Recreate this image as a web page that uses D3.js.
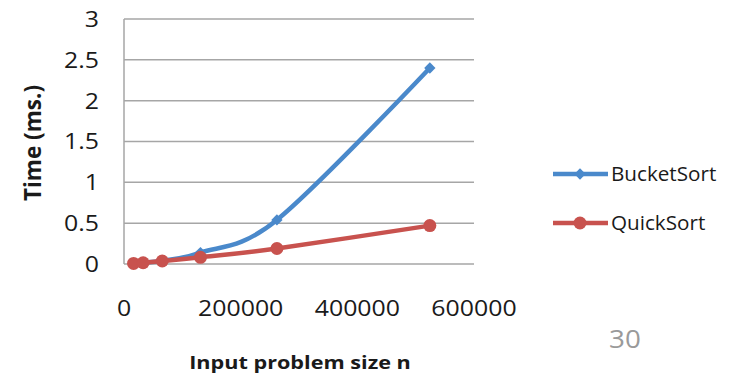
<!DOCTYPE html>
<html>
<head>
<meta charset="utf-8">
<script src="https://cdn.jsdelivr.net/npm/d3@7"></script>
<style>
  body { margin: 0; background: #fff; }
  svg { display: block; }
  text { font-family: "Open Sans", Lato, sans-serif; fill: #1a1a1a; }
</style>
</head>
<body>
<svg id="chart" width="744" height="376"></svg>
<script>
// data
const sizes = [16384, 32768, 65536, 131072, 262144, 524288];
const bucketSort = [0.01, 0.02, 0.04, 0.14, 0.54, 2.40];
const quickSort = [0.007, 0.015, 0.037, 0.082, 0.19, 0.47];
const xTicks = [0, 200000, 400000, 600000];
const yTicks = [0, 0.5, 1, 1.5, 2, 2.5, 3];

const series = [
  { name: 'BucketSort', values: bucketSort, color: '#4A89CB', marker: 'diamond' },
  { name: 'QuickSort', values: quickSort, color: '#C8524E', marker: 'circle' }
];

const svg = d3.select('#chart');
const x = d3.scaleLinear().domain([0, 600000]).range([124, 474]);
const y = d3.scaleLinear().domain([0, 3]).range([264, 19]);

// gridlines
svg.append('g').selectAll('line').data(yTicks).enter().append('line')
  .attr('x1', x(0)).attr('x2', x(600000))
  .attr('y1', d => y(d)).attr('y2', d => y(d))
  .attr('stroke', '#a6a6a6').attr('stroke-width', 1.5);

// vertical axis line
svg.append('line')
  .attr('x1', x(0)).attr('x2', x(0)).attr('y1', y(3)).attr('y2', y(0))
  .attr('stroke', '#a6a6a6').attr('stroke-width', 1.5);

// the slide text is a bit wider than the fonts we have, stretch it sideways
const sx = 1.13;

// y tick labels
svg.append('g').selectAll('text').data(yTicks).enter().append('text')
  .attr('transform', d => `translate(99,${y(d)}) scale(${sx},1)`)
  .attr('dy', '0.36em')
  .attr('text-anchor', 'end').attr('font-size', 22)
  .text(d => d);

// x tick labels
svg.append('g').selectAll('text').data(xTicks).enter().append('text')
  .attr('transform', d => `translate(${x(d)},316) scale(${sx},1)`)
  .attr('text-anchor', 'middle').attr('font-size', 22)
  .text(d => d);

// axis titles
svg.append('text')
  .attr('transform', 'translate(41,143) rotate(-90)')
  .attr('text-anchor', 'middle').attr('font-size', 22.5).attr('font-weight', 'bold')
  .text('Time (ms.)');
svg.append('text')
  .attr('transform', 'translate(300,369) scale(1.17,1)')
  .attr('text-anchor', 'middle').attr('font-size', 18.5).attr('font-weight', 'bold')
  .text('Input problem size n');

// page number
svg.append('text')
  .attr('transform', 'translate(625,348) scale(1.07,1)')
  .attr('text-anchor', 'middle').attr('font-size', 26)
  .style('fill', '#9a9a9a')
  .text('30');

const line = d3.line()
  .x((d, i) => x(sizes[i]))
  .y(d => y(d))
  .curve(d3.curveCatmullRom.alpha(0));

function drawMarker(g, type, color) {
  if (type === 'diamond') {
    // square turned 45deg, like the excel diamond
    g.append('path').attr('d', d3.symbol(d3.symbolSquare, 64)())
      .attr('transform', 'rotate(45)').attr('fill', color);
  } else {
    g.append('circle').attr('r', 6.5).attr('fill', color);
  }
}

series.forEach(s => {
  svg.append('path')
    .attr('d', line(s.values))
    .attr('fill', 'none')
    .attr('stroke', s.color).attr('stroke-width', 4.5)
    .attr('stroke-linejoin', 'round');
  s.values.forEach((v, i) => {
    const g = svg.append('g').attr('transform', `translate(${x(sizes[i])},${y(v)})`);
    drawMarker(g, s.marker, s.color);
  });
});

// legend
const legend = svg.append('g').selectAll('g').data(series).enter().append('g')
  .attr('transform', (d, i) => `translate(553,${174 + i * 49})`);
legend.append('line')
  .attr('x1', 0).attr('x2', 55)
  .attr('stroke', d => d.color).attr('stroke-width', 4.5);
legend.each(function(d) {
  drawMarker(d3.select(this).append('g').attr('transform', 'translate(27,0)'), d.marker, d.color);
});
legend.append('text')
  .attr('transform', 'translate(58,0) scale(1.06,1)')
  .attr('dy', '0.36em').attr('font-size', 19.5)
  .text(d => d.name);
</script>
</body>
</html>
